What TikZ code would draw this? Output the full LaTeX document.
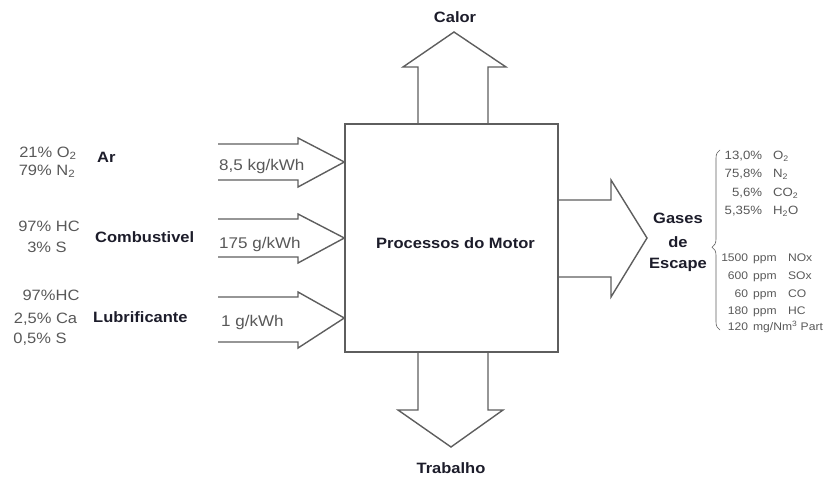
\documentclass[tikz,border=0pt]{standalone}
\usepackage{fontspec}
\setmainfont{Liberation Sans}
\usetikzlibrary{decorations.pathreplacing}
\definecolor{linegray}{HTML}{5E5E5E}
\definecolor{txtgray}{HTML}{585858}
\definecolor{lbl}{HTML}{1C1C2A}
\newcommand{\wx}[1]{\scalebox{1.1}[1]{#1}}
\newcommand{\pct}[2]{\wx{\makebox[33.6pt][r]{#1}\hspace{10pt}#2}}
\newcommand{\ppmline}[3]{\wx{\makebox[22.7pt][r]{#1}\hspace{4.5pt}\makebox[31.8pt][l]{#2}#3}}
\begin{document}
\begin{tikzpicture}[x=1pt,y=-1pt,
  blockarrow/.style={draw=linegray, line width=1.4pt, line join=miter},
  lab/.style={font=\fontsize{15}{17}\selectfont\bfseries, text=lbl, inner sep=0pt},
  comp/.style={font=\fontsize{15}{18}\selectfont, text=txtgray, inner sep=0pt, anchor=base},
  flow/.style={font=\fontsize{15.5}{18}\selectfont, text=txtgray, inner sep=0pt, anchor=base west},
  gas/.style={font=\fontsize{12}{14}\selectfont, text=txtgray, inner sep=0pt, anchor=base west},
  gasb/.style={font=\fontsize{11}{13}\selectfont, text=txtgray, inner sep=0pt, anchor=base west}]
\useasboundingbox (0,0) rectangle (839,479);

% main box
\node[draw=linegray, line width=1.4pt, minimum width=213pt, minimum height=228pt, inner sep=0pt] (motor) at (451.5,238) {};
\node[lab, anchor=base] (motortxt) at (455.5,248) {\wx{Processos do Motor}};

% heat arrow (up)
\draw[blockarrow] (motor.north -| 418,0) -- (418,67) -- (403,67) -- (454,32) -- (506,67) -- (488,67) -- (motor.north -| 488,0);
\node[lab, anchor=base] (calor) at (455,22.5) {\wx{Calor}};

% work arrow (down)
\draw[blockarrow] (motor.south -| 418,0) -- (418,410) -- (398,410) -- (451,447) -- (503,410) -- (488,410) -- (motor.south -| 488,0);
\node[lab, anchor=base] (trabalho) at (451,473) {\wx{Trabalho}};

% input arrows
\draw[blockarrow] (218,144) -- (298,144) -- (298,138) -- (motor.west |- 0,162) -- (298,187) -- (298,180) -- (218,180);
\draw[blockarrow] (218,219) -- (298,219) -- (298,214) -- (motor.west |- 0,238) -- (298,263) -- (298,257) -- (218,257);
\draw[blockarrow] (218,297) -- (298,297) -- (298,292) -- (motor.west |- 0,318) -- (298,348) -- (298,342) -- (218,342);

% output arrow
\draw[blockarrow] (motor.east |- 0,200) -- (611,200) -- (611,180) -- (647,238) -- (611,297) -- (611,277) -- (motor.east |- 0,277);

% flow labels
\node[flow] (f1) at (219,170.5) {\wx{8,5 kg/kWh}};
\node[flow] (f2) at (219,248.5) {\wx{175 g/kWh}};
\node[flow] (f3) at (221,326.5) {\wx{1 g/kWh}};

% input names
\node[lab, anchor=base west] (ar) at (97,162.5) {\wx{Ar}};
\node[lab, anchor=base west] (comb) at (95,242.5) {\wx{Combustivel}};
\node[lab, anchor=base west] (lub) at (93,322.5) {\wx{Lubrificante}};

% compositions
\node[comp] (c1) at (48,157.5) {\wx{21\% O\textsubscript{2}}};
\node[comp] (c2) at (47,175.5) {\wx{79\% N\textsubscript{2}}};
\node[comp] (c3) at (49,231.5) {\wx{97\% HC}};
\node[comp] (c4) at (47,252.5) {\wx{3\% S}};
\node[comp] (c5) at (51,300.5) {\wx{97\%HC}};
\node[comp] (c6) at (45.5,323.5) {\wx{2,5\% Ca}};
\node[comp] (c7) at (40,343.5) {\wx{0,5\% S}};

% exhaust label
\node[lab, anchor=base] (g1) at (678,223.5) {\wx{Gases}};
\node[lab, anchor=base] (g2) at (678,247.5) {\wx{de}};
\node[lab, anchor=base] (g3) at (678,268.5) {\wx{Escape}};

% brace
\draw[linegray, line width=0.6pt, decorate, decoration={brace, amplitude=8pt, aspect=0.46}] (720,330) -- (720,150);

% exhaust composition
\node[gas] (e1) at (725,159.3) {\pct{13,0\%}{O\textsubscript{2}}};
\node[gas] (e2) at (725,177.3) {\pct{75,8\%}{N\textsubscript{2}}};
\node[gas] (e3) at (725,196.3) {\pct{5,6\%}{CO\textsubscript{2}}};
\node[gas] (e4) at (725,214.3) {\pct{5,35\%}{H\textsubscript{2}O}};
\node[gasb] (e5) at (723,261) {\ppmline{1500}{ppm}{NOx}};
\node[gasb] (e6) at (723,279) {\ppmline{600}{ppm}{SOx}};
\node[gasb] (e7) at (723,297) {\ppmline{60}{ppm}{CO}};
\node[gasb] (e8) at (723,314) {\ppmline{180}{ppm}{HC}};
\node[gasb] (e9) at (723,330) {\wx{\makebox[22.7pt][r]{120}\hspace{4.5pt}mg/Nm\textsuperscript{3} Part}};
\end{tikzpicture}
\end{document}
